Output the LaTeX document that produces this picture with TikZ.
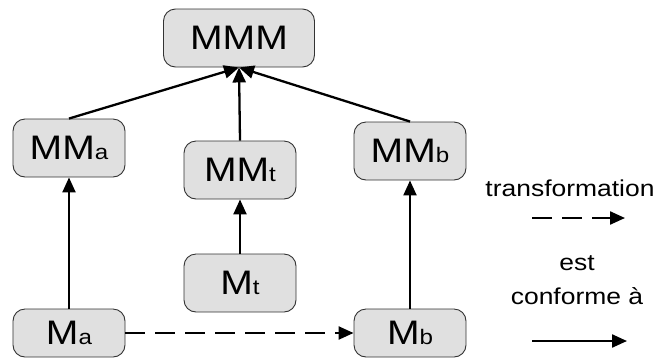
\documentclass[tikz,border=0pt]{standalone}
\usepackage{fontspec}
\setmainfont{Liberation Sans}[FakeStretch=1.15]
\usetikzlibrary{arrows.meta}

\newcommand{\ind}[1]{{\fontsize{21bp}{21bp}\selectfont #1}}

\begin{document}
\begin{tikzpicture}[x=1bp,y=-1bp]
\tikzset{modele/.style={draw=black!80,fill=black!12,rounded corners=12bp,line width=0.9bp,
    minimum width=112bp,minimum height=58bp,inner sep=0pt,font=\fontsize{34bp}{34bp}\selectfont},
  fleche/.style={line width=2.3bp,-{Triangle[length=15bp,width=13bp]}},
  legende/.style={font=\fontsize{23bp}{34bp}\selectfont,align=center}}

\useasboundingbox (0,0) rectangle (657,358);

% niveau meta-meta
\node[modele,minimum width=151bp] (mmm) at (239,38) {MMM};

% meta-modeles
\node[modele] (mma) at (69,148) {MM\ind{a}};
\node[modele] (mmt) at (240,170) {MM\ind{t}};
\node[modele] (mmb) at (410,151) {MM\ind{b}};

% modeles
\node[modele] (mt) at (240,283) {M\ind{t}};
\node[modele,minimum height=48bp] (ma) at (69,333) {M\ind{a}};
\node[modele,minimum height=48bp] (mb) at (410,333) {M\ind{b}};

\draw[fleche] (mma.north) -- (mmm.south);
\draw[fleche] (mmt.north) -- (mmm.south);
\draw[fleche] (mmb.north) -- (mmm.south);

\draw[fleche] (ma) -- (mma);
\draw[fleche] (mt) -- (mmt);
\draw[fleche] (mb) -- (mmb);
\draw[fleche,dash pattern=on 20bp off 10bp] (ma) -- (mb);

% legende
\node[legende] (transfo) at (570,188) {transformation};
\coordinate (t1) at (532,218);
\coordinate (t2) at (625,218);
\draw[fleche,dash pattern=on 20bp off 10bp] (t1) -- (t2);

\node[legende] (conf) at (577,280) {est\\conforme à};
\coordinate (c1) at (532,341);
\coordinate (c2) at (627,341);
\draw[fleche] (c1) -- (c2);

\end{tikzpicture}
\end{document}
